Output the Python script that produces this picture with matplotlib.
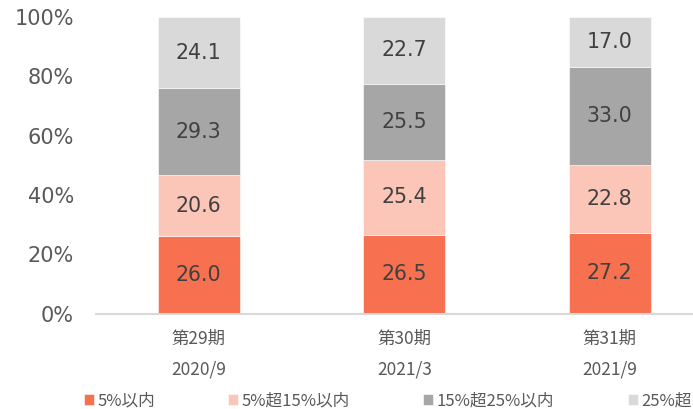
import numpy as np
import matplotlib.pyplot as plt

# data
periods = ['第29期', '第30期', '第31期']
dates = ['2020/9', '2021/3', '2021/9']
series_names = ['5%以内', '5%超15%以内', '15%超25%以内', '25%超']
s1 = [26.0, 26.5, 27.2]
s2 = [20.6, 25.4, 22.8]
s3 = [29.3, 25.5, 33.0]
s4 = [24.1, 22.7, 17.0]
colors = ['#F7704F', '#FBC5B8', '#A6A6A6', '#D9D9D9']

fig = plt.figure(figsize=(6.93, 4.09), dpi=100)
W, H = 693, 409
# axes run off the right edge like the original crop
ax = fig.add_axes([96 / W, (H - 313.5) / H, 616.5 / W, 296.5 / H])

x = np.arange(len(periods))
bottom = np.zeros(len(periods))
handles = []
for vals, col, name in zip([s1, s2, s3, s4], colors, series_names):
    b = ax.bar(x, vals, width=0.4, bottom=bottom, color=col,
               edgecolor='white', linewidth=0.4, label=name)
    handles.append(b)
    for xi, v, b0 in zip(x, vals, bottom):
        ax.text(xi, b0 + v / 2, f'{v:.1f}', ha='center', va='center',
                fontsize=14.8, color='#404040', family='DejaVu Sans')
    bottom += np.array(vals)

ax.set_xlim(-0.5, 2.5)
ax.set_ylim(0, 100)
ax.set_yticks(np.arange(0, 101, 20))
ax.set_yticklabels([f'{v}%' for v in range(0, 101, 20)],
                   fontsize=15, color='#595959', family='DejaVu Sans')
ax.set_xticks(x)
ax.set_xticklabels([p + '\n' + d for p, d in zip(periods, dates)],
                   fontsize=12.5, color='#595959', linespacing=1.9,
                   family=['Noto Sans CJK JP', 'DejaVu Sans'])
ax.tick_params(axis='y', length=0, pad=16)
ax.tick_params(axis='x', length=0, pad=12)
for s in ['top', 'right', 'left']:
    ax.spines[s].set_visible(False)
ax.spines['bottom'].set_color('#D9D9D9')
ax.spines['bottom'].set_linewidth(1.5)

fig.legend(handles=handles, labels=series_names, loc='center left',
           bbox_to_anchor=(69 / W, 1 - 401 / H), ncol=4, frameon=False,
           handlelength=0.6, handleheight=0.6, handletextpad=0.2,
           columnspacing=4.4,
           prop={'family': ['Noto Sans CJK JP', 'DejaVu Sans'], 'size': 12},
           labelcolor='#595959')

fig.savefig('out.png', dpi=100)
